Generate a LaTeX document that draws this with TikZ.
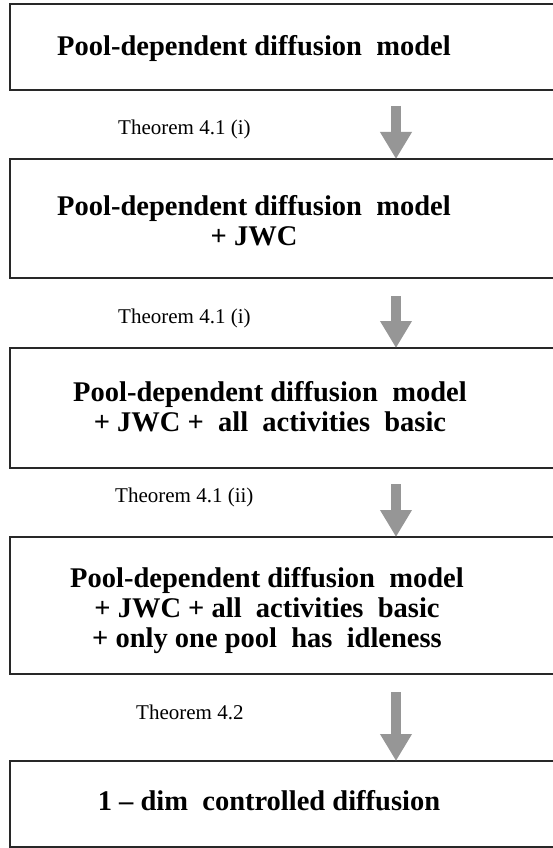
\documentclass[tikz,border=0pt]{standalone}
\usepackage{fontspec}
\setmainfont{Liberation Serif}
\usetikzlibrary{arrows.meta,calc}
\definecolor{arrgray}{RGB}{150,150,150}
\definecolor{boxline}{RGB}{40,40,40}
\tikzset{
  modelbox/.style={draw=boxline, line width=1.3pt, rectangle, inner sep=0pt, outer sep=0pt, minimum width=600pt},
  boxtext/.style={font=\fontsize{28.5}{30}\selectfont\bfseries, align=center, inner sep=0pt, anchor=base},
  thmlabel/.style={font=\fontsize{21}{24}\selectfont, inner sep=0pt, anchor=base west},
  bigarrow/.style={color=arrgray, line width=10pt, -{Triangle[width=30pt,length=27pt]}}
}
\begin{document}
\begin{tikzpicture}[x=1pt,y=-1pt]
\useasboundingbox (0,0) rectangle (553,848);
\clip (0,0) rectangle (553,848);
\fill[white] (0,0) rectangle (553,848);
% boxes
\node[modelbox, minimum height=86pt]  (b1) at (310,47) {};
\node[modelbox, minimum height=119pt] (b2) at (310,218.5) {};
\node[modelbox, minimum height=120pt] (b3) at (310,408) {};
\node[modelbox, minimum height=137pt] (b4) at (310,605.5) {};
\node[modelbox, minimum height=86pt]  (b5) at (310,804) {};
% box texts (anchor = baseline of last line)
\node[boxtext] (t1) at (254,56) {Pool-dependent diffusion\ \ model};
\node[boxtext] (t2) at (254,245) {Pool-dependent diffusion\ \ model\\+ JWC};
\node[boxtext] (t3) at (270,431) {Pool-dependent diffusion\ \ model\\+ JWC +\ \ all\ \ activities\ \ basic};
\node[boxtext] (t4) at (267,647) {Pool-dependent diffusion\ \ model\\+ JWC + all\ \ activities\ \ basic\\+ only one pool\ \ has\ \ idleness};
\node[boxtext] (t5) at (269,810) {1 -- dim\ \ controlled diffusion};
% theorem labels
\node[thmlabel] (l1) at (118,135) {Theorem 4.1 (i)};
\node[thmlabel] (l2) at (118,323) {Theorem 4.1 (i)};
\node[thmlabel] (l3) at (115,502) {Theorem 4.1 (ii)};
\node[thmlabel] (l4) at (136,719) {Theorem 4.2};
% arrows
\coordinate (a1) at (396,106);
\coordinate (a2) at (396,296);
\coordinate (a3) at (396,484);
\coordinate (a4) at (396,692);
\draw[bigarrow] (a1) -- (b2.north -| a1);
\draw[bigarrow] (a2) -- (b3.north -| a2);
\draw[bigarrow] (a3) -- (b4.north -| a3);
\draw[bigarrow] (a4) -- (b5.north -| a4);
\end{tikzpicture}
\end{document}
